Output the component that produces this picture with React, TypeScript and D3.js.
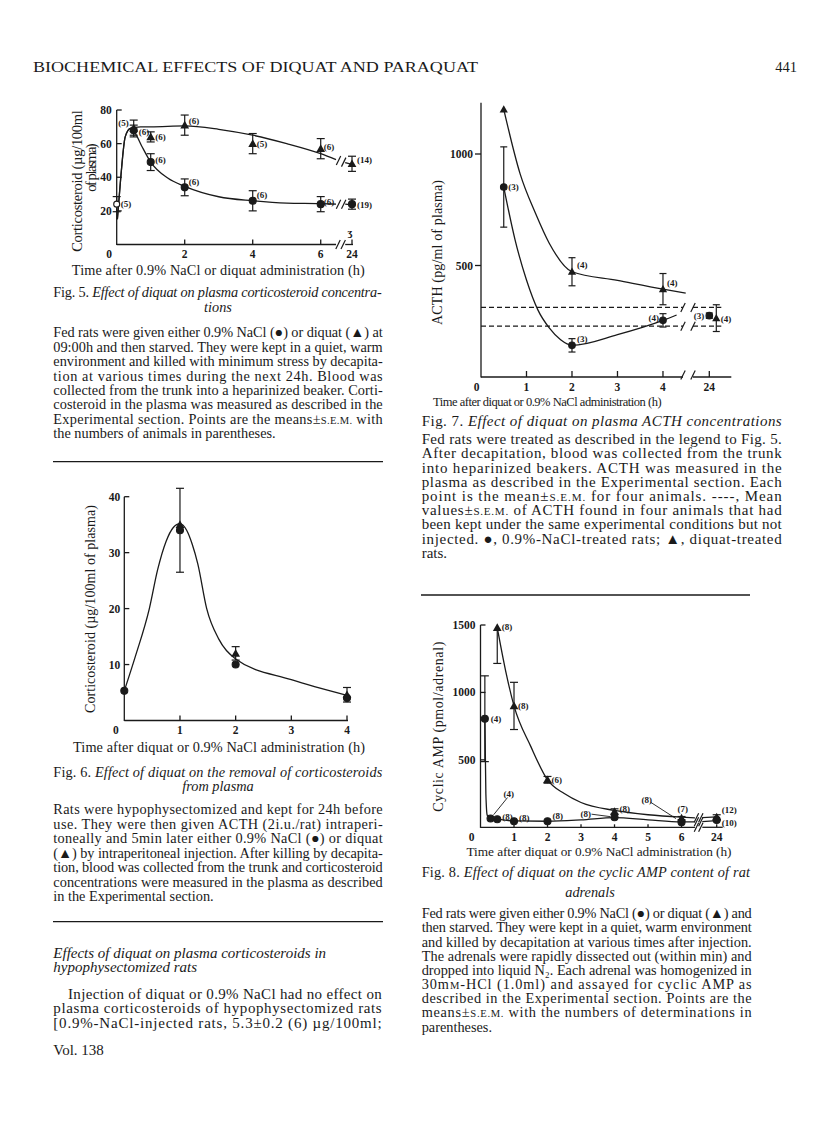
import React from 'react';
import * as d3 from 'd3';

// ---------- Fig. 5: plasma corticosteroid (ug/100ml) after NaCl or diquat ----------
const fig5StartTimes = [0];
const fig5StartValues = [24];
const fig5StartSem = [4.5];
const fig5StartN = [5];

const fig5DiquatTimes = [0.5, 1, 2, 4, 6, 24];
const fig5DiquatValues = [69, 64, 71, 60, 57, 48];
const fig5DiquatSem = [5, 3, 6, 6, 6, 4.5];
const fig5DiquatN = [5, 6, 6, 5, 6, 14];

const fig5NaclTimes = [0.5, 1, 2, 4, 6, 24];
const fig5NaclValues = [68, 49, 34, 26, 24, 24];
const fig5NaclSem = [3, 5, 5, 6, 4.5, 3];
const fig5NaclN = [6, 6, 6, 6, 6, 19];

// hand-drawn fits, [h, value]
const fig5DiquatFit = [[0.02, 15], [0.12, 40], [0.25, 64], [0.4, 69], [0.7, 70], [1, 70], [2, 70.5], [3, 68.5], [4, 65], [5, 60], [6, 54], [6.45, 50.5]];
const fig5DiquatFitLate = [[6.72, 48.7], [24, 47.6]];
const fig5NaclFit = [[0.02, 15], [0.12, 40], [0.25, 64], [0.4, 69], [0.55, 66], [0.75, 58], [1, 49], [1.5, 39.5], [2, 34.6], [3, 28.4], [4, 26], [5, 24.6], [6, 24.3], [6.45, 24]];
const fig5NaclFitLate = [[6.72, 24], [24, 23.6]];
const fig5YTicks = [20, 40, 60, 80];
const fig5XTicks = [2, 4, 6, 24];

// ---------- Fig. 6: removal of corticosteroids, hypophysectomized rats ----------
const fig6NaclTimes = [0, 1, 2, 4];
const fig6NaclValues = [5.3, 34, 10, 4];
const fig6NaclSem = [0, 7.5, 0, 0];
const fig6DiquatTimes = [1, 2, 4];
const fig6DiquatValues = [35, 12, 4.6];
const fig6DiquatSem = [0, 1.2, 1.3];
const fig6Fit = [[0, 5.3], [0.2, 11.5], [0.45, 20], [0.6, 27], [0.75, 32], [0.88, 34.5], [1, 35.2], [1.12, 34], [1.22, 31.5], [1.32, 28], [1.48, 20], [1.7, 14.5], [2, 11], [3, 7.3], [4, 4.5]];
const fig6YTicks = [10, 20, 30, 40];
const fig6XTicks = [1, 2, 3, 4];

// ---------- Fig. 7: plasma ACTH (pg/ml) ----------
const fig7DiquatTimes = [0.5, 2, 4, 24];
const fig7DiquatValues = [1200, 472, 394, 264];
const fig7DiquatSem = [0, 63, 70, 60];
const fig7DiquatN = [null, 4, 4, 4];
const fig7NaclTimes = [0.5, 2, 4, 24];
const fig7NaclValues = [852, 142, 254, 275];
const fig7NaclSem = [180, 30, 30, 12];
const fig7NaclN = [3, 3, 4, 3];
const fig7ControlMean = 270;
const fig7ControlSem = 42;
const fig7DiquatFit = [[0.5, 1200], [0.86, 911], [1.2, 733], [1.5, 600], [2, 472], [3, 433], [4, 394], [4.5, 376]];
const fig7NaclFit = [[0.5, 852], [0.75, 614], [1, 435], [1.25, 301], [1.5, 220], [1.75, 167], [2, 142], [3, 190], [4, 254], [4.3, 278]];
const fig7YTicks = [500, 1000];
const fig7XTicks = [1, 2, 3, 4, 24];

// ---------- Fig. 8: adrenal cyclic AMP (pmol/adrenal) ----------
const fig8DiquatTimes = [0.5, 1, 2, 4, 6, 24];
const fig8DiquatValues = [1480, 900, 352, 117, 68, 75];
const fig8DiquatSemUp = [0, 175, 25, 20, 12, 18];
const fig8DiquatSemDown = [265, 175, 25, 20, 12, 18];
const fig8DiquatN = [8, 8, 6, 8, 7, 12];
const fig8NaclTimes = [0.13, 0.3, 0.5, 1, 2, 4, 6, 24];
const fig8NaclValues = [805, 65, 60, 45, 45, 75, 38, 55];
const fig8NaclSem = [318, 0, 0, 0, 0, 0, 0, 0];
const fig8NaclN = [4, 4, 8, 8, 8, 8, 8, 10];
const fig8DiquatFit = [[0.5, 1480], [0.75, 1160], [1, 900], [1.5, 600], [2, 352], [2.5, 250], [3, 184], [4, 125], [5, 93], [6, 75], [6.4, 70]];
const fig8DiquatFitLate = [[6.62, 72], [24, 78]];
const fig8NaclFit = [[0.13, 805], [0.16, 250], [0.2, 90], [0.3, 65], [0.5, 60], [1, 47], [2, 45], [3, 55], [4, 72], [5, 55], [6, 40], [6.4, 40]];
const fig8NaclFitLate = [[6.62, 42], [24, 50]];
const fig8YTicks = [500, 1000, 1500];
const fig8XTicks = [1, 2, 3, 4, 5, 6, 24];

// ---------- label placement (layout only) ----------
const fig5StartLab = [[4, 0]];
const fig5DiquatLab = [[-5, -6, 'end'], [4.5, 0], [4, -4.5], [4, 0], [3, -2], [5, -4]];
const fig5NaclLab = [[5, 2], [4.5, -2], [4, -5], [4, -6], [3, -2], [5, 1]];
const fig7DiquatLab = [null, [5, -7], [4, -6], [4.5, 1]];
const fig7NaclLab = [[4.5, 0], [5, -6], [-4, -3, 'end'], [-5, 0, 'end']];
const fig7DiquatDodge = [0, 0, 0, 7];
const fig8DiquatLab = [[4.5, -1], [4, 0], [4, 0], [5, -3], [-4, -9], [5, -7]];
const fig8NaclLab = [[6, 0], [13, -25], [5, -2], [5, -3], [5, -5], [-34, -3], [-40, -22], [5, 3]];
const fig8NaclArrows = [null, [17, -21], null, null, null, [-23, -3], [-31, -20], null];

// ---------- page text ----------
const fig5Legend = [
  'Fed rats were given either 0.9% NaCl (●) or diquat (▲) at',
  '09:00h and then starved. They were kept in a quiet, warm',
  'environment and killed with minimum stress by decapita-',
  'tion at various times during the next 24h. Blood was',
  'collected from the trunk into a heparinized beaker. Corti-',
  'costeroid in the plasma was measured as described in the',
  'Experimental section. Points are the means±^S.E.M.^ with',
  'the numbers of animals in parentheses.',
];
const fig6Legend = [
  'Rats were hypophysectomized and kept for 24h before',
  'use. They were then given ACTH (2i.u./rat) intraperi-',
  'toneally and 5min later either 0.9% NaCl (●) or diquat',
  '(▲) by intraperitoneal injection. After killing by decapita-',
  'tion, blood was collected from the trunk and corticosteroid',
  'concentrations were measured in the plasma as described',
  'in the Experimental section.',
];
const bodyText = [
  'Injection of diquat or 0.9% NaCl had no effect on',
  'plasma corticosteroids of hypophysectomized rats',
  '[0.9%-NaCl-injected rats, 5.3±0.2 (6) µg/100ml;',
];
const fig7Legend = [
  'Fed rats were treated as described in the legend to Fig. 5.',
  'After decapitation, blood was collected from the trunk',
  'into heparinized beakers. ACTH was measured in the',
  'plasma as described in the Experimental section. Each',
  'point is the mean±^S.E.M.^ for four animals. ----, Mean',
  'values±^S.E.M.^ of ACTH found in four animals that had',
  'been kept under the same experimental conditions but not',
  'injected. ●, 0.9%-NaCl-treated rats; ▲, diquat-treated',
  'rats.',
];
const fig8Legend = [
  'Fed rats were given either 0.9% NaCl (●) or diquat (▲) and',
  'then starved. They were kept in a quiet, warm environment',
  'and killed by decapitation at various times after injection.',
  'The adrenals were rapidly dissected out (within min) and',
  'dropped into liquid N₂. Each adrenal was homogenized in',
  '30m^M^-HCl (1.0ml) and assayed for cyclic AMP as',
  'described in the Experimental section. Points are the',
  'means±^S.E.M.^ with the numbers of determinations in',
  'parentheses.',
];

const INK = '#1a1a1a';
const SERIF = '"Liberation Serif", "Times New Roman", serif';
const AX = { stroke: INK, strokeWidth: 1.3, fill: 'none' };
const CURVE = { stroke: INK, strokeWidth: 1.3, fill: 'none' };
const TICK = { fontSize: 11.5, fontWeight: 700, fill: INK };
const LEG = 14.3;

type Scale = d3.ScaleLinear<number, number>;

const fitLine = (x: Scale, y: Scale) =>
  d3.line<number[]>().x(d => x(d[0])).y(d => y(d[1])).curve(d3.curveMonotoneX);

function rich(s: string) {
  return s.split(/(_[^_]+_|\^[^^]+\^)/).filter(Boolean).map((p, i) => {
    if (p[0] === '_') return <tspan key={i} fontStyle="italic">{p.slice(1, -1)}</tspan>;
    if (p[0] === '^') return <tspan key={i} fontSize="0.74em">{p.slice(1, -1)}</tspan>;
    return <tspan key={i}>{p}</tspan>;
  });
}

function Para({ lines, x, y, lh, w, size = LEG, indent = 0, justifyLast = false }: any) {
  return (
    <g>
      {lines.map((s: string, i: number) => {
        const last = i === lines.length - 1 && !justifyLast;
        const ind = i === 0 ? indent : 0;
        return (
          <text key={i} x={x + ind} y={y + i * lh} dy="0.35em" fontSize={size} fill={INK}
            textLength={last ? undefined : w - ind} lengthAdjust="spacing">{rich(s)}</text>
        );
      })}
    </g>
  );
}

function Slash({ x, y }: { x: number; y: number }) {
  return <line x1={x - 2.2} y1={y + 4.5} x2={x + 2.2} y2={y - 4.5} stroke={INK} strokeWidth={1.2} />;
}

function Marker({ shape, cx, cy, r }: any) {
  if (shape === 'tri') {
    const s = r * 1.25;
    return <path d={`M${cx},${cy - s}L${cx + s},${cy + s * 0.75}L${cx - s},${cy + s * 0.75}Z`} fill={INK} />;
  }
  return <circle cx={cx} cy={cy} r={r} fill={shape === 'ring' ? '#fff' : INK} stroke={INK} strokeWidth={1.1} />;
}

function Series({ x, y, times, values, semUp, semDown, n, shape, labels, dodge, arrows, r = 3.5, cap = 4 }: any) {
  return (
    <g>
      {times.map((t: number, i: number) => {
        const px = x(t) + (dodge ? dodge[i] : 0);
        const py = y(values[i]);
        const up = semUp ? semUp[i] : 0;
        const dn = semDown ? semDown[i] : 0;
        const lab = labels ? labels[i] : null;
        const arr = arrows ? arrows[i] : null;
        return (
          <g key={i}>
            {(up > 0 || dn > 0) && (
              <g stroke={INK} strokeWidth={1.2}>
                <line x1={px} x2={px} y1={y(values[i] - dn)} y2={y(values[i] + up)} />
                {dn > 0 && <line x1={px - cap} x2={px + cap} y1={y(values[i] - dn)} y2={y(values[i] - dn)} />}
                {up > 0 && <line x1={px - cap} x2={px + cap} y1={y(values[i] + up)} y2={y(values[i] + up)} />}
              </g>
            )}
            <Marker shape={shape} cx={px} cy={py} r={r} />
            {arr && (
              <line x1={px + arr[0]} y1={py + arr[1]} x2={px + arr[0] * 0.18} y2={py + arr[1] * 0.18}
                stroke={INK} strokeWidth={0.9} />
            )}
            {n && n[i] != null && lab && (
              <text x={px + lab[0]} y={py + lab[1]} dy="0.35em" fontSize={9} fontWeight={700} fill={INK}
                textAnchor={lab[2] || 'start'}>({n[i]})</text>
            )}
          </g>
        );
      })}
    </g>
  );
}

function YTitle({ cx, cy, len, size = 14, children }: any) {
  return (
    <text transform={`translate(${cx},${cy}) rotate(-90)`} textAnchor="middle" dy="0.35em" fontSize={size}
      fill={INK} textLength={len} lengthAdjust="spacing">{children}</text>
  );
}

function XTitle({ cx, cy, len, size = 14.3, children }: any) {
  return (
    <text x={cx} y={cy} dy="0.35em" textAnchor="middle" fontSize={size} textLength={len}
      lengthAdjust="spacing" fill={INK}>{children}</text>
  );
}

function Fig5() {
  const x = d3.scaleLinear().domain([0, 6.72, 24]).range([116.7, 345.2, 352]);
  const y = d3.scaleLinear().domain([0, 80]).range([244.5, 110]);
  const ln = fitLine(x, y);
  const y0 = y(0);
  const g0 = x(6.45);
  const g1 = x(6.72);
  return (
    <g>
      <line x1={x(0)} y1={y0} x2={g0} y2={y0} {...AX} />
      <line x1={g1} y1={y0} x2={x(24) + 1} y2={y0} {...AX} />
      <line x1={x(0)} y1={y0 + 0.6} x2={x(0)} y2={y(80)} {...AX} />
      <Slash x={g0 + 2} y={y0} />
      <Slash x={g1 - 2} y={y0} />
      {fig5YTicks.map(v => (
        <g key={v}>
          <line x1={x(0)} x2={x(0) + 5} y1={y(v)} y2={y(v)} {...AX} />
          <text x={x(0) - 5} y={y(v)} dy="0.35em" textAnchor="end" {...TICK}>{v}</text>
        </g>
      ))}
      {fig5XTicks.map(t => (
        <g key={t}>
          <line x1={x(t)} x2={x(t)} y1={y0} y2={y0 - 5} {...AX} />
          <text x={x(t)} y={y0 + 9.5} dy="0.35em" textAnchor="middle" {...TICK}>{t}</text>
        </g>
      ))}
      <text x={x(0) - 7.5} y={y0 + 9.5} dy="0.35em" textAnchor="middle" {...TICK}>0</text>
      <text x={350} y={232} dy="0.35em" textAnchor="middle" fontSize={11} fontWeight={700} fill={INK}>ʒ</text>

      <path d={ln(fig5DiquatFit) || ''} {...CURVE} />
      <path d={ln(fig5DiquatFitLate) || ''} {...CURVE} />
      <path d={ln(fig5NaclFit) || ''} {...CURVE} />
      <path d={ln(fig5NaclFitLate) || ''} {...CURVE} />
      <Slash x={g0 + 2.5} y={y(50)} />
      <Slash x={g1 - 1.5} y={y(49)} />
      <Slash x={g0 + 2.5} y={y(24)} />
      <Slash x={g1 - 1.5} y={y(24)} />

      <Series x={x} y={y} times={fig5StartTimes} values={fig5StartValues} semUp={fig5StartSem} semDown={fig5StartSem}
        n={fig5StartN} shape="ring" labels={fig5StartLab} r={3} />
      <Series x={x} y={y} times={fig5NaclTimes} values={fig5NaclValues} semUp={fig5NaclSem} semDown={fig5NaclSem}
        n={fig5NaclN} shape="dot" labels={fig5NaclLab} />
      <Series x={x} y={y} times={fig5DiquatTimes} values={fig5DiquatValues} semUp={fig5DiquatSem} semDown={fig5DiquatSem}
        n={fig5DiquatN} shape="tri" labels={fig5DiquatLab} />

      <YTitle cx={77} cy={181} len={141.7} size={14.5}>Corticosteroid (µg/100ml</YTitle>
      <YTitle cx={91} cy={167.5} len={48.4} size={14.5}>of plasma)</YTitle>
      <XTitle cx={218.3} cy={270} len={293}>Time after 0.9% NaCl or diquat administration (h)</XTitle>
    </g>
  );
}

function Fig6() {
  const x = d3.scaleLinear().domain([0, 4]).range([124.3, 347]);
  const y = d3.scaleLinear().domain([0, 40]).range([720.5, 496.7]);
  const ln = fitLine(x, y);
  const y0 = y(0);
  return (
    <g>
      <line x1={x(0)} y1={y0} x2={x(4) + 1} y2={y0} {...AX} />
      <line x1={x(0)} y1={y0 + 0.6} x2={x(0)} y2={y(40)} {...AX} />
      {fig6YTicks.map(v => (
        <g key={v}>
          <line x1={x(0)} x2={x(0) + 5} y1={y(v)} y2={y(v)} {...AX} />
          <text x={x(0) - 4} y={y(v)} dy="0.35em" textAnchor="end" {...TICK}>{v}</text>
        </g>
      ))}
      {fig6XTicks.map(t => (
        <g key={t}>
          <line x1={x(t)} x2={x(t)} y1={y0} y2={y0 - 5} {...AX} />
          <text x={x(t)} y={y0 + 9.5} dy="0.35em" textAnchor="middle" {...TICK}>{t}</text>
        </g>
      ))}
      <text x={x(0) - 8.5} y={y0 + 9.5} dy="0.35em" textAnchor="middle" {...TICK}>0</text>
      <path d={ln(fig6Fit) || ''} {...CURVE} />
      <Series x={x} y={y} times={fig6DiquatTimes} values={fig6DiquatValues} semUp={fig6DiquatSem} semDown={fig6DiquatSem}
        shape="tri" />
      <Series x={x} y={y} times={fig6NaclTimes} values={fig6NaclValues} semUp={fig6NaclSem} semDown={fig6NaclSem}
        shape="dot" />
      <YTitle cx={90} cy={609} len={208} size={14}>Corticosteroid (µg/100ml of plasma)</YTitle>
      <XTitle cx={219} cy={746.7} len={292}>Time after diquat or 0.9% NaCl administration (h)</XTitle>
    </g>
  );
}

function Fig7() {
  const x = d3.scaleLinear().domain([0, 4.66, 24]).range([481, 693, 709.3]);
  const y = d3.scaleLinear().domain([0, 1000]).range([377, 154]);
  const ln = fitLine(x, y);
  const y0 = y(0);
  const g0 = x(4.44);
  const g1 = x(4.66);
  const xEnd = x(24) + 22;
  const dashes = [fig7ControlMean + fig7ControlSem, fig7ControlMean - fig7ControlSem];
  return (
    <g>
      <line x1={x(0)} y1={y0} x2={g0} y2={y0} {...AX} />
      <line x1={g1} y1={y0} x2={xEnd} y2={y0} {...AX} />
      <line x1={x(0)} y1={y0 + 0.6} x2={x(0)} y2={y(1230)} {...AX} />
      <Slash x={g0} y={y0 - 2} />
      <Slash x={g1} y={y0 - 2} />
      {fig7YTicks.map(v => (
        <g key={v}>
          <line x1={x(0) - 6} x2={x(0)} y1={y(v)} y2={y(v)} {...AX} />
          <text x={x(0) - 8} y={y(v)} dy="0.35em" textAnchor="end" {...TICK}>{v}</text>
        </g>
      ))}
      {fig7XTicks.map(t => (
        <g key={t}>
          <line x1={x(t)} x2={x(t)} y1={y0} y2={y0 - 6} {...AX} />
          <text x={x(t)} y={y0 + 10} dy="0.35em" textAnchor="middle" {...TICK}>{t}</text>
        </g>
      ))}
      <text x={x(0) - 4.3} y={y0 + 10} dy="0.35em" textAnchor="middle" {...TICK}>0</text>
      {dashes.map(v => (
        <g key={v}>
          <line x1={x(0)} x2={g0} y1={y(v)} y2={y(v)} stroke={INK} strokeWidth={1.2} strokeDasharray="5 3" />
          <line x1={g1} x2={x(24) + 12} y1={y(v)} y2={y(v)} stroke={INK} strokeWidth={1.2} strokeDasharray="5 3" />
          <Slash x={g0} y={y(v)} />
          <Slash x={g1} y={y(v)} />
        </g>
      ))}
      <path d={ln(fig7DiquatFit) || ''} {...CURVE} />
      <path d={ln(fig7NaclFit) || ''} {...CURVE} />
      <Series x={x} y={y} times={fig7NaclTimes} values={fig7NaclValues} semUp={fig7NaclSem} semDown={fig7NaclSem}
        n={fig7NaclN} shape="dot" labels={fig7NaclLab} r={3.3} cap={3.5} />
      <Series x={x} y={y} times={fig7DiquatTimes} values={fig7DiquatValues} semUp={fig7DiquatSem} semDown={fig7DiquatSem}
        n={fig7DiquatN} shape="tri" labels={fig7DiquatLab} dodge={fig7DiquatDodge} r={3.3} cap={3.5} />
      <YTitle cx={436.7} cy={252.5} len={145} size={14}>ACTH (pg/ml of plasma)</YTitle>
      <XTitle cx={547.3} cy={401.7} len={228.7} size={12.5}>Time after diquat or 0.9% NaCl administration (h)</XTitle>
    </g>
  );
}

function Fig8() {
  const x = d3.scaleLinear().domain([0, 6.62, 24]).range([480.5, 702.3, 716.7]);
  const y = d3.scaleLinear().domain([0, 1500]).range([827.3, 625]);
  const ln = fitLine(x, y);
  const y0 = y(0);
  const g0 = x(6.4);
  const g1 = x(6.62);
  return (
    <g>
      <line x1={x(0)} y1={y0} x2={g0} y2={y0} {...AX} />
      <line x1={g1} y1={y0} x2={x(24) + 6} y2={y0} {...AX} />
      <line x1={x(0)} y1={y0 + 0.6} x2={x(0)} y2={y(1500)} {...AX} />
      <Slash x={g0 + 1.5} y={y0} />
      <Slash x={g1 - 1.5} y={y0} />
      {fig8YTicks.map(v => (
        <g key={v}>
          <line x1={x(0)} x2={x(0) + 5} y1={y(v)} y2={y(v)} {...AX} />
          <text x={x(0) - 5} y={y(v)} dy="0.35em" textAnchor="end" {...TICK}>{v}</text>
        </g>
      ))}
      {fig8XTicks.map(t => (
        <g key={t}>
          <line x1={x(t)} x2={x(t)} y1={y0} y2={y0 - 3} {...AX} />
          <text x={x(t)} y={y0 + 9.5} dy="0.35em" textAnchor="middle" {...TICK}>{t}</text>
        </g>
      ))}
      <text x={x(0) - 8.8} y={y0 + 9.5} dy="0.35em" textAnchor="middle" {...TICK}>0</text>
      <path d={ln(fig8DiquatFit) || ''} {...CURVE} />
      <path d={ln(fig8DiquatFitLate) || ''} {...CURVE} />
      <path d={ln(fig8NaclFit) || ''} {...CURVE} />
      <path d={ln(fig8NaclFitLate) || ''} {...CURVE} />
      <Slash x={g0 + 1.5} y={y(71)} />
      <Slash x={g1 - 1.5} y={y(71)} />
      <Slash x={g0 + 1.5} y={y(41)} />
      <Slash x={g1 - 1.5} y={y(41)} />
      <Series x={x} y={y} times={fig8NaclTimes} values={fig8NaclValues} semUp={fig8NaclSem} semDown={fig8NaclSem}
        n={fig8NaclN} shape="dot" labels={fig8NaclLab} arrows={fig8NaclArrows} />
      <Series x={x} y={y} times={fig8DiquatTimes} values={fig8DiquatValues} semUp={fig8DiquatSemUp} semDown={fig8DiquatSemDown}
        n={fig8DiquatN} shape="tri" labels={fig8DiquatLab} />
      <YTitle cx={438.3} cy={726.7} len={170} size={14}>Cyclic AMP (pmol/adrenal)</YTitle>
      <XTitle cx={599} cy={851} len={265} size={13.3}>Time after diquat or 0.9% NaCl administration (h)</XTitle>
    </g>
  );
}

function PageText() {
  return (
    <g>
      <text x={33} y={67} dy="0.35em" fontSize={14.5} textLength={445} lengthAdjust="spacingAndGlyphs" fill={INK}>
        BIOCHEMICAL EFFECTS OF DIQUAT AND PARAQUAT
      </text>
      <text x={797} y={67} dy="0.35em" fontSize={14.5} textAnchor="end" fill={INK}>441</text>

      {/* left column */}
      <Para lines={['Fig. 5. _Effect of diquat on plasma corticosteroid concentra-_']} x={53.3} y={291.7} lh={15} w={328.4} justifyLast />
      <text x={218} y={306.7} dy="0.35em" textAnchor="middle" fontSize={LEG} fontStyle="italic" fill={INK}>tions</text>
      <Para lines={fig5Legend} x={53.3} y={332.3} lh={14.43} w={329.4} />
      <line x1={53} x2={383} y1={461.7} y2={461.7} stroke={INK} strokeWidth={1.3} />

      <Para lines={['Fig. 6. _Effect of diquat on the removal of corticosteroids_']} x={53.3} y={771.7} lh={15} w={329} justifyLast />
      <text x={218} y={786} dy="0.35em" textAnchor="middle" fontSize={LEG} fontStyle="italic" fill={INK}>from plasma</text>
      <Para lines={fig6Legend} x={53.3} y={809.3} lh={14.45} w={329.4} />
      <line x1={53} x2={383} y1={921.7} y2={921.7} stroke={INK} strokeWidth={1.3} />

      <text x={53.3} y={952.7} dy="0.35em" fontSize={15} fontStyle="italic" fill={INK}>Effects of diquat on plasma corticosteroids in</text>
      <text x={53.3} y={966.7} dy="0.35em" fontSize={15} fontStyle="italic" fill={INK}>hypophysectomized rats</text>
      <Para lines={bodyText} x={53.3} y={993.3} lh={14.7} w={328.4} indent={14.7} justifyLast size={15} />
      <text x={53.3} y={1050} dy="0.35em" fontSize={15} fill={INK}>Vol. 138</text>

      {/* right column */}
      <Para lines={['Fig. 7. _Effect of diquat on plasma ACTH concentrations_']} x={421.7} y={421} lh={15} w={360} justifyLast size={15} />
      <Para lines={fig7Legend} x={421.7} y={439} lh={14.2} w={360} size={15} />
      <line x1={421} x2={750} y1={595} y2={595} stroke={INK} strokeWidth={1.3} />

      <Para lines={['Fig. 8. _Effect of diquat on the cyclic AMP content of rat_']} x={421.7} y={871.7} lh={15} w={328.3} justifyLast />
      <text x={590} y={891.7} dy="0.35em" textAnchor="middle" fontSize={LEG} fontStyle="italic" fill={INK}>adrenals</text>
      <Para lines={fig8Legend} x={421.7} y={913.3} lh={14.17} w={330} />
    </g>
  );
}

export default function App() {
  return (
    <svg width={816} height={1136} viewBox="0 0 816 1136" fontFamily={SERIF}
      style={{ position: 'absolute', left: 0, top: 0, background: '#fff' }}>
      <rect width={816} height={1136} fill="#fff" />
      <PageText />
      <Fig5 />
      <Fig6 />
      <Fig7 />
      <Fig8 />
    </svg>
  );
}
